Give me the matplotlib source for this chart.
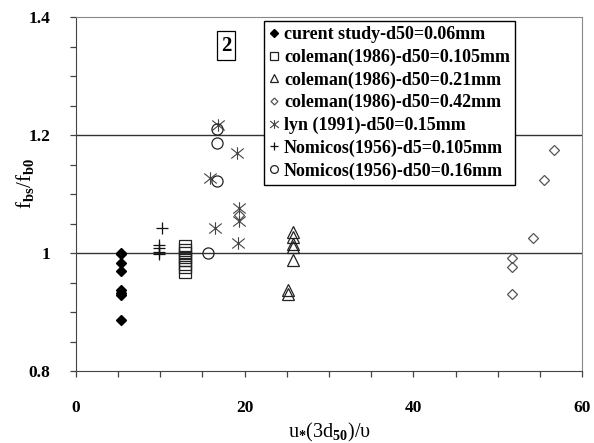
import numpy as np
import matplotlib
matplotlib.use("Agg")
import matplotlib.pyplot as plt
from matplotlib.path import Path

plt.rcParams['font.family'] = ['Liberation Serif', 'DejaVu Serif']
plt.rcParams['font.weight'] = 'bold'
plt.rcParams['mathtext.fontset'] = 'custom'
plt.rcParams['mathtext.rm'] = 'Liberation Serif:bold'
plt.rcParams['mathtext.it'] = 'Liberation Serif:bold'
plt.rcParams['mathtext.bf'] = 'Liberation Serif:bold'

# data
cur_x = [5.35] * 8
cur_y = [1.0, 0.998, 0.983, 0.970, 0.937, 0.933, 0.929, 0.886]

col105_x = [12.9] * 8
col105_y = [1.012, 1.005, 1.0, 0.994, 0.988, 0.982, 0.976, 0.968]

col21_x = [25.7, 25.7, 25.7, 25.7, 25.7, 25.2, 25.2]
col21_y = [1.036, 1.027, 1.015, 1.010, 0.988, 0.937, 0.930]

col42_x = [19.3, 51.7, 51.7, 51.7, 54.2, 55.5, 56.7]
col42_y = [1.065, 0.991, 0.977, 0.930, 1.025, 1.124, 1.175]

lyn_x = [16.8, 15.9, 16.5, 19.1, 19.3, 19.4, 19.2]
lyn_y = [1.217, 1.128, 1.042, 1.169, 1.077, 1.055, 1.017]

nom5_x = [10.2, 9.9, 9.9, 9.9, 9.9]
nom5_y = [1.043, 1.013, 1.008, 1.002, 0.999]

nom16_x = [15.7, 16.7, 16.7, 16.7]
nom16_y = [1.0, 1.211, 1.187, 1.122]

labels = ["curent study-d50=0.06mm",
          "coleman(1986)-d50=0.105mm",
          "coleman(1986)-d50=0.21mm",
          "coleman(1986)-d50=0.42mm",
          "lyn (1991)-d50=0.15mm",
          "Nomicos(1956)-d5=0.105mm",
          "Nomicos(1956)-d50=0.16mm"]

# excel style star: X with a vertical bar
star = Path([(-1, -0.8), (1, 0.8), (-1, 0.8), (1, -0.8), (0, -1), (0, 1)],
            [Path.MOVETO, Path.LINETO, Path.MOVETO, Path.LINETO, Path.MOVETO, Path.LINETO])

fig = plt.figure(figsize=(5.94, 4.43), dpi=100)
ax = fig.add_axes([0.1274, 0.1625, 0.8529, 0.7985])

ax.axhline(1.0, color='#333333', lw=1.0, zorder=1)
ax.axhline(1.2, color='#333333', lw=1.0, zorder=1)

ax.plot(cur_x, cur_y, 'D', ms=5.2, color='black', ls='none', label=labels[0], zorder=3)
ax.plot(col105_x, col105_y, 's', ms=8.3, mfc='none', mec='#222222', mew=0.9, ls='none', label=labels[1], zorder=3)
ax.plot(col21_x, col21_y, '^', ms=8, mfc='none', mec='#222222', mew=0.9, ls='none', label=labels[2], zorder=3)
ax.plot(col42_x, col42_y, 'D', ms=5, mfc='none', mec='#555555', mew=0.9, ls='none', label=labels[3], zorder=3)
ax.plot(lyn_x, lyn_y, marker=star, ms=9, mfc='none', mec='#444444', mew=0.8, ls='none', label=labels[4], zorder=3)
ax.plot(nom5_x, nom5_y, '+', ms=9, mec='#111111', mew=0.9, ls='none', label=labels[5], zorder=3)
ax.plot(nom16_x, nom16_y, 'o', ms=8, mfc='none', mec='#222222', mew=0.9, ls='none', label=labels[6], zorder=3)

ax.set_xlim(0, 60)
ax.set_ylim(0.8, 1.4)
ax.set_xticks([0, 20, 40, 60])
ax.set_xticks(np.arange(0, 61, 5), minor=True)
ax.set_yticks([0.8, 1.0, 1.2, 1.4])
ax.set_yticklabels(['0.8', '1', '1.2', '1.4'])
ax.set_yticks(np.arange(0.8, 1.41, 0.05), minor=True)
ax.tick_params(which='both', direction='out', length=4, width=0.9, color='#444444')
ax.tick_params(axis='x', which='major', pad=17, labelsize=12.5)
ax.tick_params(axis='y', which='major', pad=14, labelsize=12.5)

for s in ['top', 'right']:
    ax.spines[s].set_color('#888888')
for s in ['left', 'bottom']:
    ax.spines[s].set_color('#444444')

ax.set_xlabel(r'u$_{*}$(3d$_{50}$)/υ', fontsize=14.5)
ax.set_ylabel(r'f$_{bs}$/f$_{b0}$', fontsize=15)
ax.xaxis.set_label_coords(0.5, -0.14)
ax.yaxis.set_label_coords(-0.078, 0.53)

ax.text(17.8, 1.352, '2', fontsize=15, fontweight='bold', ha='center', va='center',
        bbox=dict(boxstyle='square,pad=0.2', fc='white', ec='black', lw=0.9))

leg = ax.legend(loc='upper left', bbox_to_anchor=(0.372, 0.99), fontsize=13,
                frameon=True, fancybox=False, framealpha=1, edgecolor='black',
                handlelength=0.5, handletextpad=0.3, labelspacing=0.3,
                borderpad=0.3, borderaxespad=0, markerscale=0.7)
leg.get_frame().set_linewidth(1.0)

fig.savefig("out.png", dpi=100)
